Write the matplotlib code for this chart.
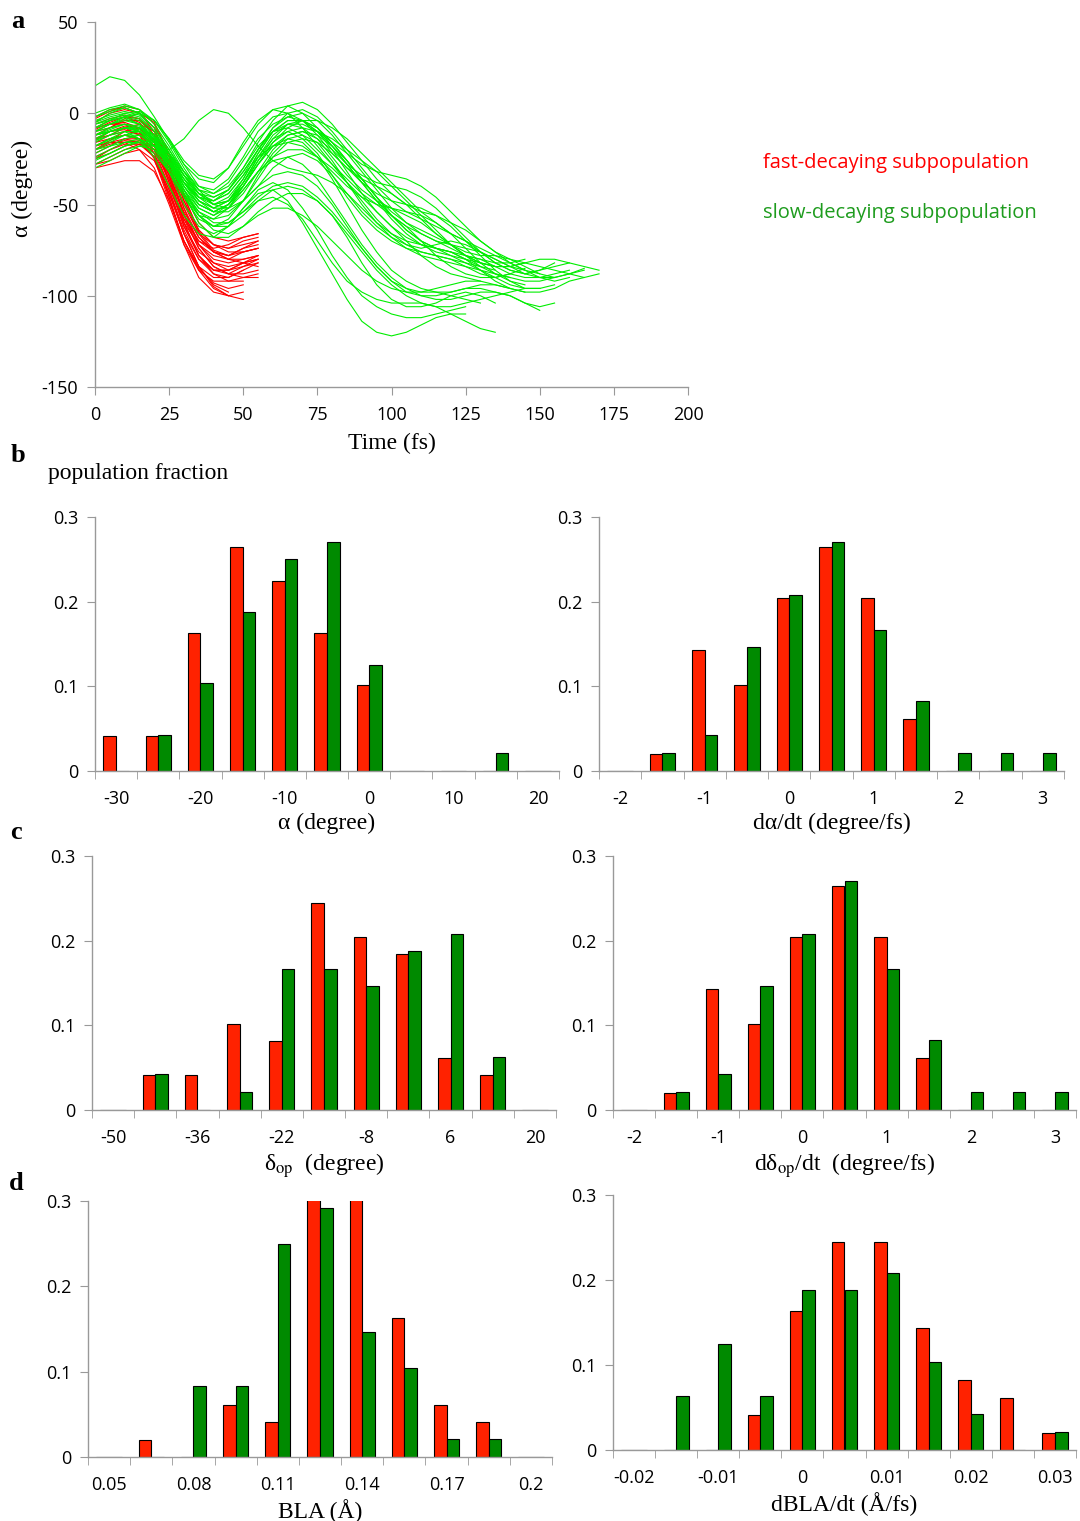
import numpy as np
import matplotlib
matplotlib.use("Agg")
import matplotlib.pyplot as plt

plt.rcParams['mathtext.fontset'] = 'stix'
plt.rcParams['axes.unicode_minus'] = False

# ---------- panel a: alpha(t) trajectories, sampled every 5 fs ----------
t_step = 5
red_traj = [
    [-8, -4, -2, -5, -15, -38, -62, -78, -86, -88, -84, -80],
    [-15, -10, -8, -12, -25, -48, -70, -85, -93, -96, -94],
    [-20, -16, -14, -16, -24, -42, -64, -80, -88, -90, -86, -82],
    [-28, -26, -22, -20, -26, -44, -66, -84, -95, -100, -102],
    [-12, -8, -3, 0, -5, -22, -45, -65, -75, -78, -74, -70],
    [-18, -14, -12, -14, -22, -40, -60, -72, -78, -80, -76, -74],
    [-25, -22, -18, -16, -18, -30, -52, -72, -82, -86, -84, -82],
    [-10, -6, -6, -10, -22, -46, -70, -84, -90, -90, -86],
    [-5, 0, 2, 0, -8, -28, -52, -68, -76, -78, -76, -74],
    [-22, -18, -14, -14, -20, -36, -58, -74, -84, -88, -88, -86],
    [-30, -28, -26, -26, -32, -48, -70, -86, -96, -100],
    [-14, -10, -7, -8, -16, -34, -56, -70, -76, -78, -74, -72],
    [-2, 2, 3, 0, -10, -30, -55, -72, -80, -82, -80, -78],
    [-20, -15, -10, -8, -12, -28, -50, -66, -72, -74, -70, -68],
    [-16, -14, -12, -14, -24, -46, -72, -90, -98, -100, -98],
    [-8, -6, -5, -8, -18, -38, -58, -70, -74, -72, -68, -66],
    [-25, -20, -16, -15, -20, -34, -54, -68, -76, -80, -82, -84],
    [-12, -10, -9, -12, -20, -40, -62, -76, -82, -84, -82, -80],
    [-18, -16, -16, -20, -30, -50, -72, -86, -92, -92, -90, -88],
    [-6, -3, -1, -3, -12, -32, -56, -74, -84, -88, -90, -90],
    [-28, -24, -20, -17, -17, -26, -46, -64, -72, -76, -76, -74],
    [-10, -8, -4, -4, -10, -26, -48, -64, -72, -74, -72, -70],
    [-3, 1, 4, 2, -6, -24, -48, -66, -76, -80, -80, -78],
    [-24, -20, -17, -17, -24, -42, -66, -84, -94, -98],
    [-14, -12, -10, -11, -18, -36, -60, -78, -86, -86, -82, -78],
    [-9, -5, -2, -3, -12, -34, -60, -78, -88, -92, -92],
    [-20, -17, -15, -16, -24, -44, -66, -80, -86, -86, -82, -80],
    [-16, -12, -8, -6, -10, -24, -44, -60, -68, -70, -68, -66],
]
green_traj = [
    [15, 20, 18, 10, -2, -15, -28, -36, -38, -30, -16, -4, 2, 0, -8, -18, -28, -38, -48, -58, -66, -72, -76, -78, -80, -84, -88, -90, -88, -85],
    [-5, 0, 3, 0, -8, -20, -32, -40, -42, -36, -24, -10, -2, 0, -4, -12, -22, -30, -36, -40, -44, -50, -58, -66, -72, -76, -78, -78, -80, -84, -88, -90, -88, -85],
    [-10, -6, -3, -6, -14, -26, -38, -46, -48, -42, -30, -18, -10, -8, -12, -20, -28, -36, -44, -50, -56, -62, -70, -78, -84, -88, -90, -90, -88],
    [-15, -10, -8, -10, -18, -30, -42, -52, -56, -50, -38, -24, -14, -10, -14, -22, -34, -46, -56, -64, -70, -74, -76, -78, -80, -82, -84],
    [-20, -16, -12, -10, -14, -24, -36, -46, -52, -52, -44, -32, -20, -12, -10, -14, -20, -28, -34, -38, -40, -42, -46, -52, -60, -68, -76, -82, -86, -88, -86, -82],
    [-2, 2, 4, 2, -4, -14, -26, -34, -36, -30, -18, -6, 2, 4, 0, -8, -18, -28, -38, -48, -58, -66, -72, -76, -78, -80, -82, -84],
    [-25, -22, -18, -15, -16, -22, -32, -42, -50, -52, -48, -40, -30, -24, -22, -26, -34, -44, -54, -62, -68, -72, -74, -72, -70, -72, -76, -80, -84, -86],
    [-12, -8, -6, -10, -18, -20, -14, -4, 2, 0, -8, -18, -26, -30, -32, -34, -38, -44, -52, -60, -66, -70, -72, -74, -76, -80, -84, -86],
    [-8, -4, -2, -6, -16, -32, -50, -62, -66, -62, -52, -42, -38, -42, -52, -64, -78, -90, -100, -106, -110, -112, -112, -110, -108, -106],
    [-15, -12, -10, -14, -24, -40, -56, -66, -68, -62, -52, -44, -42, -48, -60, -74, -88, -102, -114, -120, -122, -120, -116, -112, -110, -110],
    [-18, -14, -10, -10, -16, -28, -44, -56, -62, -60, -54, -48, -46, -50, -58, -70, -82, -92, -98, -102, -104, -104, -104, -106, -110, -114, -118, -120],
    [-5, -2, 0, -2, -10, -24, -40, -52, -56, -52, -42, -32, -26, -24, -28, -36, -48, -60, -72, -82, -90, -96, -100, -102, -102, -100, -98, -98, -100, -104, -108],
    [-12, -10, -8, -10, -16, -28, -40, -50, -54, -50, -40, -28, -18, -12, -10, -12, -18, -26, -36, -46, -56, -64, -70, -74, -78, -82, -86, -90, -94, -96, -96, -94],
    [-22, -18, -14, -12, -16, -26, -38, -48, -52, -48, -36, -22, -10, -4, -4, -10, -20, -32, -44, -54, -62, -68, -72, -74, -76, -80, -86, -92, -96, -98, -98, -96, -92, -90],
    [-8, -6, -4, -6, -12, -22, -34, -44, -48, -44, -34, -20, -8, 0, 2, -2, -10, -20, -30, -40, -48, -54, -58, -62, -66, -70, -76, -82, -86, -88, -86, -84, -82, -84, -86],
    [-28, -24, -20, -18, -20, -28, -38, -46, -48, -44, -34, -24, -18, -16, -18, -24, -32, -40, -46, -50, -52, -54, -56, -60, -66, -74, -82, -88, -92, -94],
    [0, 3, 5, 2, -6, -18, -32, -44, -50, -48, -38, -24, -12, -6, -6, -10, -16, -22, -28, -32, -34, -36, -40, -46, -54, -62, -70, -76, -80, -82, -84, -86, -88, -90, -88],
    [-16, -12, -8, -8, -14, -26, -40, -50, -54, -50, -42, -32, -24, -20, -20, -24, -30, -38, -46, -54, -62, -70, -78, -84, -88, -90, -92, -94, -96],
    [-10, -8, -6, -8, -14, -26, -42, -56, -62, -62, -56, -48, -42, -40, -42, -48, -56, -66, -76, -86, -94, -100, -104, -106, -106, -104, -102, -100, -98, -96, -96],
    [-20, -18, -16, -16, -22, -32, -44, -54, -58, -56, -48, -36, -24, -16, -14, -16, -22, -30, -38, -44, -48, -50, -52, -56, -62, -70, -78, -86, -92, -96, -96],
    [-4, -1, 1, -1, -8, -20, -34, -46, -50, -46, -36, -22, -10, -4, -4, -8, -16, -26, -36, -46, -56, -64, -70, -74, -76, -78, -80, -84, -88, -90, -90, -88, -86],
    [-24, -20, -16, -14, -18, -28, -42, -54, -60, -60, -54, -46, -40, -38, -40, -46, -54, -64, -74, -84, -92, -98, -100, -100, -98, -96, -96, -98, -100, -104, -106, -104],
    [-14, -10, -8, -8, -12, -22, -34, -44, -50, -48, -40, -28, -16, -8, -4, -4, -8, -14, -22, -30, -38, -46, -54, -60, -66, -70, -74, -78, -82, -86, -88],
    [-6, -4, -2, -4, -12, -26, -42, -56, -64, -66, -62, -56, -52, -52, -56, -62, -70, -78, -86, -92, -96, -98, -98, -96, -94, -92, -92],
    [-18, -15, -12, -12, -18, -30, -46, -58, -62, -58, -48, -34, -22, -14, -12, -16, -26, -38, -50, -60, -68, -74, -78, -80, -82, -84, -86, -88, -90, -92, -92, -90],
    [-30, -26, -22, -18, -18, -24, -34, -42, -44, -38, -26, -14, -6, -2, -4, -10, -18, -28, -38, -48, -56, -62, -66, -70, -74, -78, -80, -82, -82, -80],
    [-10, -6, -2, 0, -4, -14, -28, -40, -44, -40, -30, -16, -4, 4, 6, 2, -6, -16, -26, -36, -44, -50, -54, -56, -60, -64, -70, -76, -82, -86, -90, -92, -90],
    [-12, -10, -8, -9, -15, -27, -44, -60, -68, -68, -62, -54, -48, -44, -44, -48, -56, -68, -82, -94, -102, -106, -106, -104, -100, -98, -100, -104],
    [-8, -4, 0, 1, -4, -16, -30, -42, -46, -42, -32, -20, -8, -2, 0, -4, -12, -22, -32, -42, -52, -60, -66, -70, -72, -74, -76, -80, -84, -88, -90, -90, -88, -86],
    [-18, -14, -12, -14, -20, -32, -46, -56, -58, -52, -40, -26, -14, -6, -4, -8, -16, -26, -36, -46, -54, -60, -64, -68, -72, -78, -84, -88, -90],
    [-2, 1, 3, 0, -8, -22, -38, -50, -54, -50, -40, -28, -18, -14, -16, -24, -36, -50, -64, -76, -86, -92, -96, -98, -98, -96, -94, -94, -96, -98],
    [-26, -22, -18, -16, -18, -26, -36, -44, -46, -42, -32, -20, -10, -6, -8, -14, -24, -34, -42, -48, -52, -56, -60, -66, -72, -78, -82, -84, -84, -82, -80, -80, -82],
    [-12, -9, -6, -7, -13, -24, -38, -48, -52, -48, -38, -26, -16, -10, -8, -10, -14, -20, -26, -32, -40, -48, -56, -64, -72, -78, -82, -84, -84, -82],
    [-6, -3, -1, -3, -10, -22, -36, -48, -54, -54, -48, -40, -34, -32, -34, -40, -50, -62, -74, -84, -92, -96, -98, -98, -100, -102, -104],
]

# ---------- histograms (population fraction per bin) ----------
alpha_bins = [-30, -25, -20, -15, -10, -5, 0, 5, 10, 15, 20]
alpha_fast = [0.041, 0.041, 0.163, 0.265, 0.224, 0.163, 0.102, 0, 0, 0, 0]
alpha_slow = [0, 0.042, 0.104, 0.188, 0.250, 0.271, 0.125, 0, 0, 0.021, 0]

dalpha_bins = [-2, -1.5, -1, -0.5, 0, 0.5, 1, 1.5, 2, 2.5, 3]
dalpha_fast = [0, 0.020, 0.143, 0.102, 0.204, 0.265, 0.204, 0.061, 0, 0, 0]
dalpha_slow = [0, 0.021, 0.042, 0.146, 0.208, 0.271, 0.167, 0.083, 0.021, 0.021, 0.021]

dop_bins = [-50, -43, -36, -29, -22, -15, -8, -1, 6, 13, 20]
dop_fast = [0, 0.041, 0.041, 0.102, 0.082, 0.245, 0.204, 0.184, 0.061, 0.041, 0]
dop_slow = [0, 0.042, 0, 0.021, 0.167, 0.167, 0.146, 0.188, 0.208, 0.063, 0]

ddop_bins = [-2, -1.5, -1, -0.5, 0, 0.5, 1, 1.5, 2, 2.5, 3]
ddop_fast = [0, 0.020, 0.143, 0.102, 0.204, 0.265, 0.204, 0.061, 0, 0, 0]
ddop_slow = [0, 0.021, 0.042, 0.146, 0.208, 0.271, 0.167, 0.083, 0.021, 0.021, 0.021]

bla_bins = [0.05, 0.065, 0.08, 0.095, 0.11, 0.125, 0.14, 0.155, 0.17, 0.185, 0.2]
bla_fast = [0, 0.020, 0, 0.061, 0.041, 0.306, 0.306, 0.163, 0.061, 0.041, 0]
bla_slow = [0, 0, 0.083, 0.083, 0.250, 0.292, 0.146, 0.104, 0.021, 0.021, 0]

dbla_bins = [-0.02, -0.015, -0.01, -0.005, 0, 0.005, 0.01, 0.015, 0.02, 0.025, 0.03]
dbla_fast = [0, 0, 0, 0.041, 0.163, 0.245, 0.245, 0.143, 0.082, 0.061, 0.020]
dbla_slow = [0, 0.063, 0.125, 0.063, 0.188, 0.188, 0.208, 0.104, 0.042, 0, 0.021]

RED = '#ff2200'
GREEN = '#008a00'
AXC = '#999999'
TICKFONT = 'Open Sans'
SERIF = 'Liberation Serif'

W, H = 1080, 1521
fig = plt.figure(figsize=(W / 100, H / 100), dpi=100)


def box(x0, x1, ytop, ybot):
    return [x0 / W, 1 - ybot / H, (x1 - x0) / W, (ybot - ytop) / H]


def style(ax):
    for s in ['top', 'right']:
        ax.spines[s].set_visible(False)
    for s in ['left', 'bottom']:
        ax.spines[s].set_color(AXC)
        ax.spines[s].set_linewidth(1.0)
    ax.tick_params(which='both', color=AXC, direction='out')
    for lab in ax.get_xticklabels() + ax.get_yticklabels():
        lab.set_fontfamily(TICKFONT)
        lab.set_fontsize(13)


# panel a
ax = fig.add_axes(box(95, 688, 22, 387))
for tr in red_traj:
    tt = np.arange(len(tr)) * t_step
    ax.plot(tt, tr, color='#ff0000', lw=0.8)
for tr in green_traj:
    tt = np.arange(len(tr)) * t_step
    ax.plot(tt, tr, color='#00ee00', lw=0.8)
ax.set_xlim(0, 200)
ax.set_ylim(-150, 50)
ax.set_xticks(range(0, 201, 25))
ax.set_yticks(range(-150, 51, 50))
ax.tick_params(axis='x', length=6, pad=8)
ax.tick_params(axis='y', length=6, pad=6)
style(ax)
ax.set_xlabel('Time (fs)', fontfamily=SERIF, fontsize=17, labelpad=6)
fig.text(22 / W, 1 - 188 / H, 'α (degree)', fontfamily=SERIF, fontsize=17,
         rotation=90, ha='center', va='center')

fig.text(763 / W, 1 - 163 / H, 'fast-decaying subpopulation', color='#ff0000',
         fontfamily=TICKFONT, fontsize=14.5, va='center')
fig.text(763 / W, 1 - 213 / H, 'slow-decaying subpopulation', color='#1e9c1e',
         fontfamily=TICKFONT, fontsize=14.5, va='center')


def hist(rect, bins, fast, slow, xlabel):
    ax = fig.add_axes(rect)
    n = len(bins)
    x = np.arange(n) + 0.5
    ax.bar(x - 0.3, fast, width=0.3, align='edge', color=RED,
           edgecolor='black', linewidth=0.8)
    ax.bar(x, slow, width=0.3, align='edge', color=GREEN, edgecolor='black',
           linewidth=0.8)
    ax.set_xlim(0, n)
    ax.set_ylim(0, 0.3)
    ax.set_yticks([0, 0.1, 0.2, 0.3])
    ax.set_yticklabels(['0', '0.1', '0.2', '0.3'])
    ax.set_xticks(np.arange(n + 1), minor=True)
    ax.set_xticks(x[::2])
    ax.set_xticklabels(['%g' % b for b in bins[::2]])
    ax.tick_params(axis='x', which='major', length=0, pad=14)
    ax.tick_params(axis='x', which='minor', length=6)
    ax.tick_params(axis='y', length=6, pad=6)
    style(ax)
    ax.set_xlabel(xlabel, fontfamily=SERIF, fontsize=17, labelpad=3)
    return ax


hist(box(95, 559, 517, 771), alpha_bins, alpha_fast, alpha_slow, 'α (degree)')
hist(box(599, 1064, 517, 771), dalpha_bins, dalpha_fast, dalpha_slow,
     'dα/dt (degree/fs)')
hist(box(92, 556, 856, 1110), dop_bins, dop_fast, dop_slow,
     r'δ$_{\mathrm{op}}$  (degree)')
hist(box(613, 1076, 856, 1110), ddop_bins, ddop_fast, ddop_slow,
     r'dδ$_{\mathrm{op}}$/dt  (degree/fs)')
hist(box(88, 552, 1201, 1457), bla_bins, bla_fast, bla_slow, 'BLA (Å)')
hist(box(613, 1076, 1195, 1450), dbla_bins, dbla_fast, dbla_slow,
     'dBLA/dt (Å/fs)')

for letter, (px, py) in {'a': (18, 22), 'b': (18, 456), 'c': (16, 832),
                         'd': (16, 1184)}.items():
    fig.text(px / W, 1 - py / H, letter, fontfamily=SERIF, fontweight='bold',
             fontsize=19, ha='center', va='center')
fig.text(48 / W, 1 - 474 / H, 'population fraction', fontfamily=SERIF,
         fontsize=17, va='center')

fig.savefig('out.png', dpi=100)
